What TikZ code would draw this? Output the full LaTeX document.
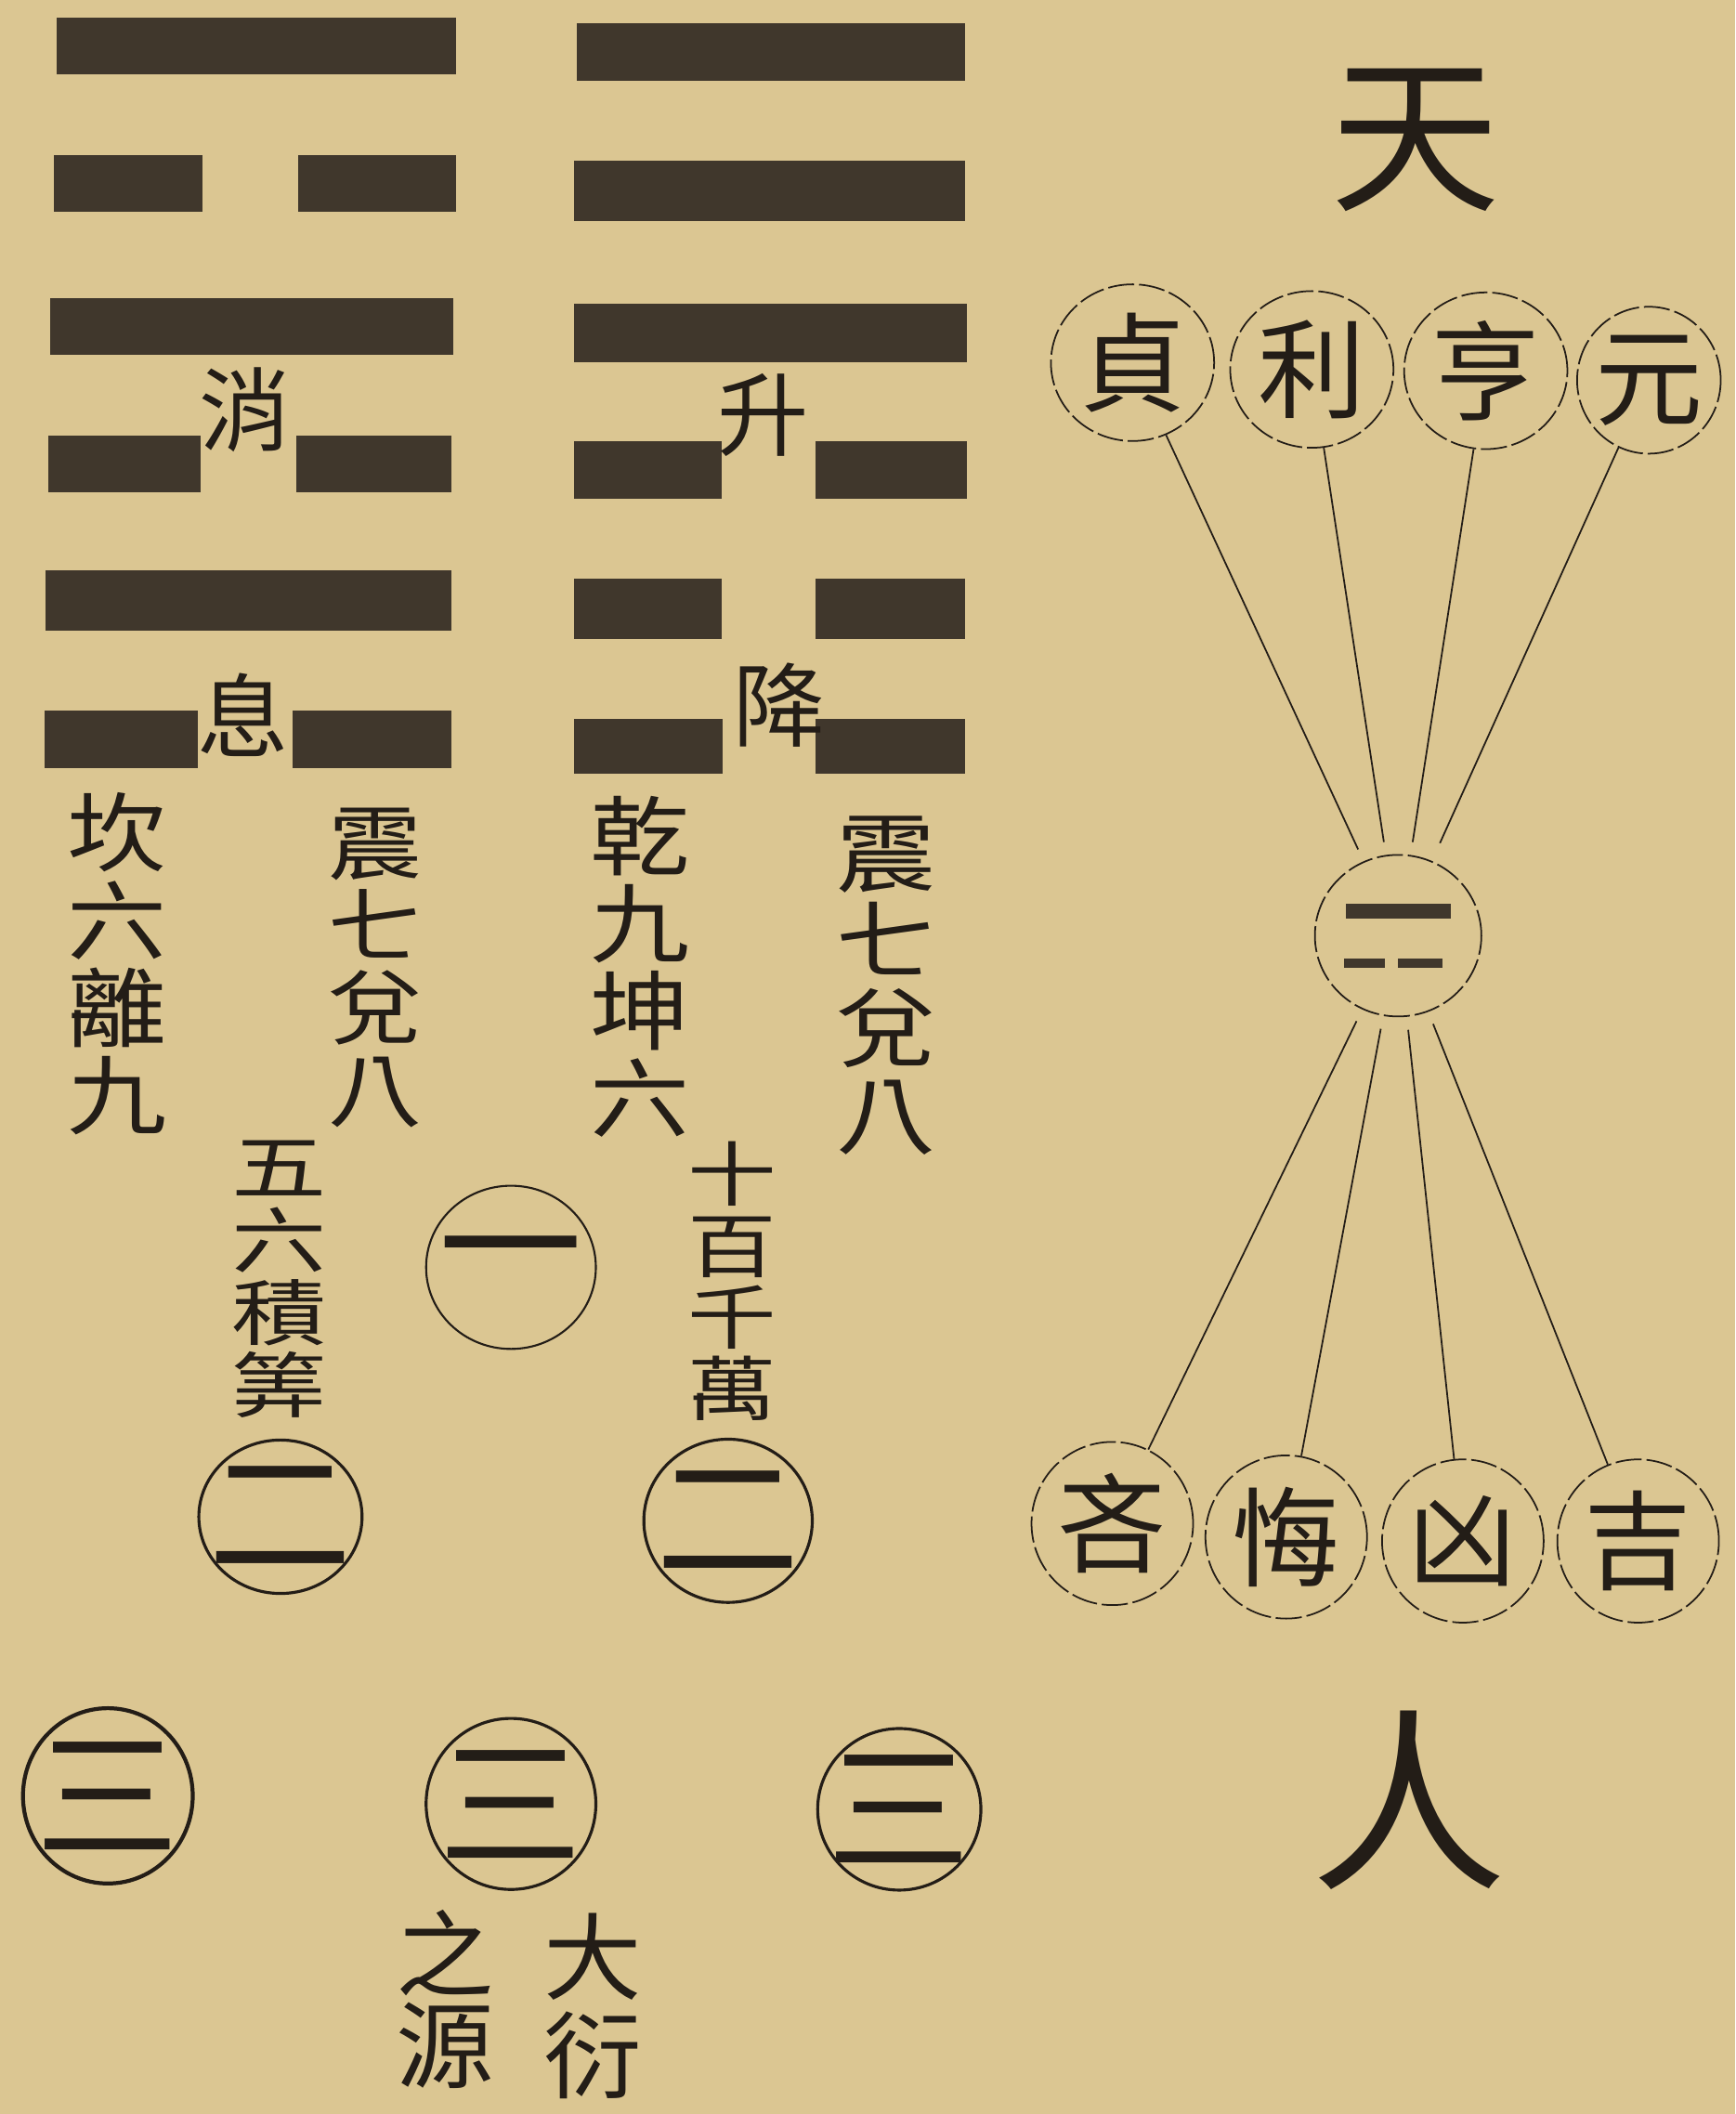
\documentclass[tikz,border=0pt]{standalone}
\usepackage{fontspec}
\newfontfamily\cjk{Noto Sans CJK TC}
\usetikzlibrary{shapes.geometric}
\definecolor{paper}{RGB}{219,198,146}
\definecolor{ink}{RGB}{35,29,23}
\definecolor{barink}{RGB}{64,55,44}

\begin{document}
\begin{tikzpicture}[x=0.14515mm, y=-0.14515mm,
    bar/.style={fill=barink},
    seal/.style={ellipse, draw=ink, inner sep=-1pt, text=ink, font=\cjk\fontsize{33}{33}\selectfont},
    dotseal/.style={seal, line width=0.5pt, dash pattern=on 8pt off 1.5pt, minimum width=50pt, minimum height=48pt},
    numseal/.style={seal, inner sep=-5pt, line width=0.9pt, font=\cjk\fontsize{44}{44}\selectfont},
    vcol/.style n args={2}{align=center, inner sep=0pt, text=ink, xscale=1.15, transform shape, font={\cjk\fontsize{#1}{#2}\selectfont\lineskiplimit=-100pt}},
    word/.style={inner sep=0pt, text=ink, font=\cjk\fontsize{#1}{#1}\selectfont},
    spoke/.style={draw=ink, line width=0.5pt}]
    % paper
    \fill[paper] (0,0) rectangle (1287,1568);
    \useasboundingbox (0,0) rectangle (1287,1568);

    % left hexagram
    \fill[bar] (42,13) rectangle (338,55);
    \fill[bar] (40,115) rectangle (150,157);
    \fill[bar] (221,115) rectangle (338,157);
    \fill[bar] (37,221) rectangle (336,263);
    \fill[bar] (36,323) rectangle (149,365);
    \fill[bar] (220,323) rectangle (335,365);
    \fill[bar] (34,423) rectangle (335,468);
    \fill[bar] (33,527) rectangle (147,570);
    \fill[bar] (217,527) rectangle (335,570);
    % right hexagram
    \fill[bar] (428,17) rectangle (716,60);
    \fill[bar] (426,119) rectangle (716,164);
    \fill[bar] (426,225) rectangle (717,269);
    \fill[bar] (426,327) rectangle (535,370);
    \fill[bar] (605,327) rectangle (717,370);
    \fill[bar] (426,429) rectangle (535,474);
    \fill[bar] (605,429) rectangle (716,474);
    \fill[bar] (426,533) rectangle (536,574);
    \fill[bar] (605,533) rectangle (716,574);

    \node[word=28] (xiao) at (182,304) {消};
    \node[word=28] (xi) at (180,530) {息};
    \node[word=28] (sheng) at (566,308) {升};
    \node[word=28] (jiang) at (578,523) {降};

    % columns under the hexagrams
    \node[vcol={26.5}{26.8}] (kanli) at (87,715) {坎\\六\\離\\九};
    \node[vcol={25}{25.2}] (zhendui) at (278,718) {震\\七\\兌\\八};
    \node[vcol={26.5}{26.8}] (qiankun) at (475,717) {乾\\九\\坤\\六};
    \node[vcol={26.5}{26.8}] (zhenduib) at (657,731) {震\\七\\兌\\八};
    \node[vcol={22}{22.3}, xscale=1.15] (jisuan) at (207,949) {五\\六\\積\\筭};
    \node[vcol={21.5}{21.9}, xscale=1.1] (shibai) at (543,950) {十\\百\\千\\萬};

    % numbered seals
    \node[numseal, line width=0.6pt, minimum width=52pt, minimum height=50pt] (yi) at (379,940) {一};
    \node[numseal, minimum width=50pt, minimum height=47pt] (erL) at (208,1125) {二};
    \node[numseal, minimum width=51.6pt, minimum height=50pt] (erR) at (540,1128) {二};
    \node[numseal, line width=1.2pt, minimum width=52pt, minimum height=53.7pt] (sanL) at (80,1332) {三};
    \node[numseal, minimum width=52pt, minimum height=52.4pt] (sanM) at (379,1338) {三};
    \node[numseal, minimum width=50pt, minimum height=49.5pt] (sanR) at (667,1342) {三};

    \node[vcol={29}{30}, xscale=0.9] (dayan) at (440,1488) {大\\衍};
    \node[vcol={29}{28}, xscale=0.9] (zhiyuan) at (330,1483) {之\\源};

    % heaven and man
    \node[word=52] (tian) at (1050,104) {天};
    \node[word=60] (ren) at (1045,1335) {人};

    \node[dotseal] (zhen) at (840,269) {貞};
    \node[dotseal] (li) at (973,274) {利};
    \node[dotseal] (heng) at (1102,275) {亨};
    \node[dotseal, minimum width=44pt, minimum height=45pt] (yuan) at (1223,282) {元};

    \node[dotseal, minimum width=51pt, minimum height=49.5pt] (ctr) at (1037,694) {};
    \fill[bar] (998,670) rectangle (1076,681);
    \fill[bar] (997,711) rectangle (1027,718);
    \fill[bar] (1037,711) rectangle (1070,718);

    \node[dotseal, minimum width=49.5pt, minimum height=50pt] (lin) at (825,1130) {吝};
    \node[dotseal, minimum width=49.5pt, minimum height=50pt] (hui) at (954,1140) {悔};
    \node[dotseal, minimum width=49.5pt, minimum height=50pt] (xiong) at (1085,1143) {凶};
    \node[dotseal, minimum width=49.5pt, minimum height=50pt] (ji) at (1215,1143) {吉};

    \draw[spoke, shorten >=4pt] (zhen) -- (ctr);
    \draw[spoke, shorten >=4pt] (li) -- (ctr);
    \draw[spoke, shorten >=4pt] (heng) -- (ctr);
    \draw[spoke, shorten >=6pt] (yuan) -- (ctr);
    \draw[spoke, shorten <=4pt] (ctr) -- (lin);
    \draw[spoke, shorten <=4pt] (ctr) -- (hui);
    \draw[spoke, shorten <=4pt] (ctr) -- (xiong);
    \draw[spoke, shorten <=4pt] (ctr) -- (ji);
\end{tikzpicture}
\end{document}
